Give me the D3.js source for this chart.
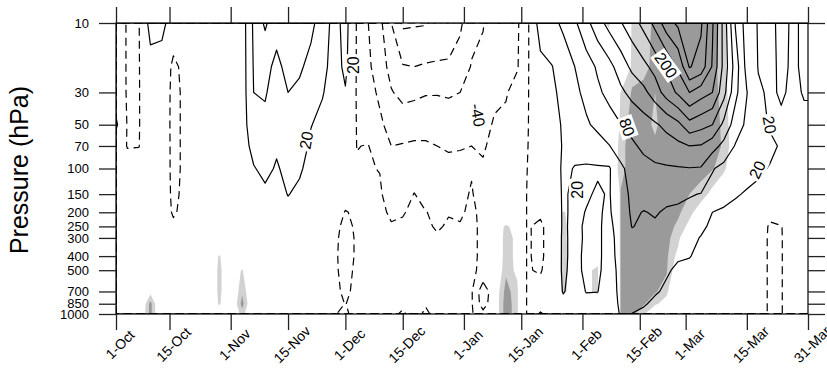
<!DOCTYPE html>
<html>
<head>
<meta charset="utf-8">
<script src="https://cdn.jsdelivr.net/npm/d3@7"></script>
<style>
  body { margin: 0; background: #fff; }
  text { font-family: "Liberation Sans", Arial, Helvetica, sans-serif; }
</style>
</head>
<body>
<svg id="chart" width="827" height="371"></svg>
<script>
// pressure levels (hPa), bottom to top
const pLevels = [1000, 850, 700, 500, 400, 300, 250, 200, 150, 100, 70, 50, 30, 20, 10];
// one value every 3 days starting 1-Oct
const dayStep = 3;

// anomaly at each level
const z10   = [3,-12,-11,30,28,5,5,5,5,5,5,5,55,85,58,62,60,55,40,8,30,-12,-40,-62,-100,-135,-133,-132,-125,-118,-105,-80,-72,-52,-48,-44,-9.5,34,41,56,75,101,128,150,168,187,209,239,277,296,305,295,234,158,78,36,18,16,24,18,22,23];
const z20   = [3,-12,-11,10,8,-15,-4,5,5,5,5,5,52,56,45,56,53,44,30,7,26,-12,-35,-55,-80,-98,-100,-97,-96,-96,-88,-68,-62,-48,-46,-42,-9.5,12,19,33,50,67,84,101,124,147,162,180,204,235,292,279,227,160,96,40,19,16,23,18,22,23];
const z30   = [4,-12,-11,6,5,-16,-6,5,5,5,5,5,50,52,40,50,46,36,22,6,18,-12,-28,-46,-68,-78,-76,-72,-72,-74,-70,-58,-55,-44,-42,-30,-9.5,8,15,27,43,58,75,88,104,119,132,155,183,205,230,213,200,150,88,51,23,17,22,17,21,21];
const z50   = [25,-12,-11,5,4,-16,-6,5,5,5,5,5,42,45,33,44,40,21,12,5,10,-11,-16,-34,-52,-55,-52,-52,-50,-52,-50,-48,-46,-38,-35,-22,-9.5,2,10,23,35,46,57,68,79,88,97,106,118,132,160,150,140,102,66,44,29,18,17,16,17,17];
const z70   = [2,-11,-10.5,5,5,-16,-6,5,5,5,5,5,30,38,24,36,33,15,8,5,5,-10.3,-9.5,-20,-40,-38,-36,-36,-40,-44,-42,-40,-44,-30,-25,-16,-9.5,-2,8,22,26,32,38,49,63,76,85,91,97,103,110,108,92,71,48,40,32,24,18,17,17,17];
const z100  = [3,-2,-2,5,5,-16,-6,5,5,5,5,5,18,28,17,28,24,10,6,5,3,-9,-9,-10.5,-28,-30,-20,-28,-28,-30,-32,-12,-36,-20,-18,-13,-9.5,-4,6,24,19,17,17,17,45,60,72,76,77,78,79,78,52,42,35,28,23,19,17,17,18,18];
const z150  = [4,2,2,5,5,-15,-5,5,5,5,5,5,8,14,10,21,14,7,5,4,-2,-8,-8,-8,-18,-18,-9.5,-16,-18,-16,-16,-8,-22,-15,-14,-12,-9.5,-6,0,24,14,17,23,18,40,55,60,58,57,56,52,49,40,30,22,18,16,17,18,18,18,18];
const z200  = [4,4,4,5,5,-13,-3,5,5,5,5,5,5,6,6,12,8,5,5,0,-11,-7,-7,-7,-12,-11,-7,-9.5,-13,-11,-12,-7,-14,-13,-13,-12,-9.5,-8,-4,24,14,21,22,17,35,54,49,52,47,45,42,30,20,16,14,13,10,-6,8,12,12,12];
const z250  = [4,4,4,5,5,-5,3,5,5,5,5,5,5,5,5,6,5,5,5,-4,-15,-7,-6,-5,-9,-8,-6,-7,-12,-8,-9,-7,-13,-12,-12,-12,-9.5,-12,-5,24,13,24,23,14,32,51,45,47,44,40,36,24,16,12,10,5,0,-12,-11,4,6,6];
const z300  = [4,4,4,5,5,2,4,5,5,5,5,5,5,5,5,5,5,5,5,-6,-16,-8,-5,-4,-6,-5,-5,-5,-8,-5,-6,-7,-13,-12,-12,-12,-9.5,-12,-5,25,12,24,24,12,30,42,38,36,34,30,25,19,14,10,8,5,-3,-12,-11,0,5,5];
const z400  = [4,4,4,5,5,4,4,5,5,5,5,5,5,5,5,5,5,5,5,-7,-16,-8,-4,-3,-4,-4,-4,-4,-5,-4,-5,-7,-13,-13,-12,-12,-9.5,-12,-5,25,12,26,25,10,30,38,35,32,28,22,21,14,10,8,5,3,-3,-12,-11,0,4,4];
const z500  = [4,4,4,5,5,4,4,5,5,5,5,5,5,5,5,5,5,5,5,-7,-15,-7,-3,-3,-3,-3,-3,-3,-3,-3,-4,-7,-14,-14,-12,-12,-9.5,-11,-4,25,10,27,25,8,28,34,30,27,22,17,14,10,8,6,4,2,-3,-12,-11,0,4,4];
const z700  = [4,4,4,5,5,4,4,5,5,5,5,5,5,5,5,5,5,5,5,-6,-13,-6,-2,-2,-2,-2,-2,-3,-2,-2,-3,-7,-60,-20,-13,-12,-9.5,-6,-2,22,8,21,20.5,6,27,30,26,22,17,13,10,8,6,4,3,2,-3,-12,-11,0,3,3];
const z850  = [4,4,4,5,5,4,4,5,5,5,5,5,5,5,5,5,5,5,5,-4,-10.5,-4,0,-1,-3,-6,-1,-8,-2,-2,-3,-7,-55,-18,-13,-12,-9.5,0,3,12,6,12,12,5,25,26,22,16,12,10,8,6,5,4,3,1,-3,-12,-11,0,3,3];
const z1000 = [4,4,4,5,5,4,4,5,5,5,5,5,5,5,5,5,5,5,5,-9,-13,-3,0,0,-5,-13,-2,-14,-3,-2,-3,-7,-30,-14,-13,-12,-9.5,25,5,8,6,8,8,5,22,19.5,16,12,10,8,6,5,4,3,3,1,-3,-12,-11,0,3,3];

// significance (%) at each level
const s10   = [40,40,40,40,40,40,40,40,40,40,40,40,40,40,40,40,40,40,40,40,40,40,40,40,40,40,40,40,40,40,40,40,40,40,40,40,40,40,40,40,40,40,86,92,60,92,93,96,98,99,99,99,97,92,82,40,40,40,40,40,40,40];
const s20   = [40,40,40,40,40,40,40,40,40,40,40,40,40,40,40,40,40,40,40,40,40,40,40,40,40,40,40,40,40,40,40,40,40,40,40,40,40,40,40,40,40,40,40,75,65,93,94,96,98,99,99,99,97,92,82,40,40,40,40,40,40,40];
const s30   = [40,40,40,40,40,40,40,40,40,40,40,40,40,40,40,40,40,40,40,40,40,40,40,40,40,40,40,40,40,40,40,40,40,40,40,40,40,40,40,40,40,40,40,70,90.5,95.5,96,95,98,99,99,99,97,93,83,40,40,40,40,40,40,40];
const s50   = [40,40,40,40,40,40,40,40,40,40,40,40,40,40,40,40,40,40,40,40,40,40,40,40,40,40,40,40,40,40,40,40,40,40,40,40,40,40,40,40,40,40,40,75,92,97,97,94,98,99,99,99,97,94,84,40,40,40,40,40,40,40];
const s70   = [40,40,40,40,40,40,40,40,40,40,40,40,40,40,40,40,40,40,40,40,40,40,40,40,40,40,40,40,40,40,40,40,40,40,40,40,40,40,40,40,40,40,40,80,93,98,99,96,98,99,98,98,96.5,94.5,85,40,40,40,40,40,40,40];
const s100  = [40,40,40,40,40,40,40,40,40,40,40,40,40,40,40,40,40,40,40,40,40,40,40,40,40,40,40,40,40,40,40,40,40,40,40,40,40,40,40,40,40,40,40,82,93,98,99,98,98,98,97,97,95.5,92,80,40,40,40,40,40,40,40];
const s150  = [40,40,40,40,40,40,40,40,40,40,40,40,40,40,40,40,40,40,40,40,40,40,40,40,40,40,40,40,40,40,40,40,40,40,40,40,40,40,60,75,60,40,40,20,95.5,99,99,99,98,97,95,93,88,80,70,40,40,40,40,40,40,40];
const s200  = [40,40,40,40,40,40,40,40,40,40,40,40,40,40,40,40,40,40,40,40,40,40,40,40,40,40,40,40,40,40,40,40,40,40,70,40,40,40,80,91,85,40,40,20,95.5,99,99,99,98,96,92,86,75,70,50,40,40,40,40,40,40,40];
const s250  = [40,40,40,40,40,40,40,40,40,40,40,40,40,40,40,40,40,40,40,40,40,40,40,40,40,40,40,40,40,40,40,40,40,82,92,85,40,40,80,92,85,40,40,20,95.5,99,99,99,97,94,88,75,50,40,40,40,40,40,40,40,40,40];
const s300  = [40,40,40,40,40,40,40,40,40,70,40,40,40,40,40,40,40,40,40,40,40,40,40,40,40,40,40,40,40,40,40,40,40,82,93,88,40,40,80,92,85,40,40,20,95.5,99,99,99,96.5,92,80,65,40,40,40,40,40,40,40,40,40,40];
const s400  = [40,40,40,40,40,40,40,40,80,91,80,70,40,40,40,40,40,40,40,40,40,40,40,40,40,40,40,40,40,40,40,40,40,82,93,88,40,40,80,93,85,80,85,20,95.5,99,99,98,96,88,70,50,40,40,40,40,40,40,40,40,40,40];
const s500  = [40,40,40,60,40,40,40,40,80,92,82,91,75,40,40,40,40,40,40,40,40,40,40,40,40,40,40,40,40,40,40,40,40,82,94,88,40,40,80,93,85,88,92,20,95.5,99,99,97,95.5,85,60,40,40,40,40,40,40,40,40,40,40,40];
const s700  = [40,40,60,88,60,40,40,40,80,92,82,94,82,40,40,40,40,40,40,40,40,40,40,40,40,40,40,40,40,40,40,40,40,85,97,92,40,40,80,92,85,88,92,20,95.5,99,98,95.5,93,70,50,40,40,40,40,40,40,40,40,40,40,40];
const s850  = [40,40,80,97,80,40,40,40,80,91,82,97,82,40,40,40,40,40,40,40,40,40,40,40,40,40,40,40,40,40,40,40,40,85,98,92,40,40,70,82,70,70,84,20,95.5,98,95.5,92,85,60,40,40,40,40,40,40,40,40,40,40,40,40];
const s1000 = [40,40,82,97,80,40,40,40,60,85,80,93,80,40,40,40,40,40,40,40,40,40,40,40,40,40,40,40,40,40,40,40,40,85,98,92,40,40,40,60,40,40,40,20,95.5,96,92,75,60,50,40,40,40,40,40,40,40,40,40,40,40,40];

const zRows = [z1000, z850, z700, z500, z400, z300, z250, z200, z150, z100, z70, z50, z30, z20, z10];
const sRows = [s1000, s850, s700, s500, s400, s300, s250, s200, s150, s100, s70, s50, s30, s20, s10];

const contourLevels = d3.range(-160, 320, 30);   // ... -40, -10, 20, 50, 80 ...
const sigLevels = [90, 95];
const sigColors = ["#d2d2d2", "#9a9a9a"];

// axis ticks
const tickDays = [0, 14, 30, 45, 60, 75, 91, 106, 122, 137, 149, 165, 181];
const tickNames = ["1-Oct", "15-Oct", "1-Nov", "15-Nov", "1-Dec", "15-Dec", "1-Jan", "15-Jan", "1-Feb", "15-Feb", "1-Mar", "15-Mar", "31-Mar"];
const pTicks = [1000, 850, 700, 500, 400, 300, 250, 200, 150, 100, 70, 50, 30, 10];

// contour labels (day, hPa, rotation)
const contourLabels = [
  {text: "20",  day: 49.7,  p: 64,   angle: -80},
  {text: "20",  day: 62,    p: 19.5, angle: -90},
  {text: "-40", day: 94.7,  p: 43,   angle: 80},
  {text: "20",  day: 120.6, p: 140,  angle: -90},
  {text: "80",  day: 133.7, p: 52,   angle: 70},
  {text: "200", day: 143.9, p: 19.5, angle: 55},
  {text: "20",  day: 171,   p: 50,   angle: 80},
  {text: "20",  day: 167.7, p: 102,  angle: -65}
];

const svg = d3.select("#chart");
const plot = {left: 116, right: 808, top: 23, bottom: 314};

const x = d3.scaleLinear().domain([0, 181]).range([plot.left, plot.right]);
const y = d3.scaleLog().domain([1000, 10]).range([plot.bottom, plot.top]);

const nCol = z10.length;
const nRow = pLevels.length;

// grid coordinates -> pixels
function gridX(gx) {
  const c = Math.max(0, Math.min(nCol - 1, gx - 0.5));
  return x(c * dayStep);
}
function gridY(gy) {
  const j = Math.max(0, Math.min(nRow - 1, gy - 0.5));
  const j0 = Math.min(nRow - 2, Math.floor(j));
  const t = j - j0;
  return y(pLevels[j0]) * (1 - t) + y(pLevels[j0 + 1]) * t;
}
const path = d3.geoPath(d3.geoTransform({
  point: function (gx, gy) { this.stream.point(gridX(gx), gridY(gy)); }
}));

svg.append("rect").attr("width", 827).attr("height", 371).attr("fill", "#fff");

svg.append("defs").append("clipPath").attr("id", "clip")
  .append("rect")
  .attr("x", plot.left).attr("y", plot.top)
  .attr("width", plot.right - plot.left).attr("height", plot.bottom - plot.top);

const g = svg.append("g").attr("clip-path", "url(#clip)");

// shading
const sigContours = d3.contours().size([nCol, nRow]).thresholds(sigLevels)(sRows.flat());
g.selectAll("path.sig")
  .data(sigContours)
  .enter().append("path")
  .attr("class", "sig")
  .attr("d", path)
  .attr("fill", (d, i) => sigColors[i])
  .attr("stroke", "none");

// contour lines
const zContours = d3.contours().size([nCol, nRow]).thresholds(contourLevels)(zRows.flat());
g.selectAll("path.line")
  .data(zContours)
  .enter().append("path")
  .attr("class", "line")
  .attr("d", path)
  .attr("fill", "none")
  .attr("stroke", "#000")
  .attr("stroke-width", 1.2)
  .attr("stroke-linejoin", "round")
  .attr("stroke-dasharray", d => d.value < 0 ? "8,5" : null);

// contour labels
const lab = g.selectAll("g.lab")
  .data(contourLabels)
  .enter().append("g")
  .attr("class", "lab")
  .attr("transform", d => `translate(${x(d.day)},${y(d.p)}) rotate(${d.angle})`);
lab.append("text")
  .attr("text-anchor", "middle")
  .attr("dy", "0.36em")
  .attr("font-size", "16px")
  .text(d => d.text);
lab.each(function () {
  const t = d3.select(this).select("text");
  const b = t.node().getBBox();
  d3.select(this).insert("rect", "text")
    .attr("x", b.x - 2).attr("y", b.y)
    .attr("width", b.width + 4).attr("height", b.height)
    .attr("fill", "#fff");
});

// frame
svg.append("rect")
  .attr("x", plot.left).attr("y", plot.top)
  .attr("width", plot.right - plot.left).attr("height", plot.bottom - plot.top)
  .attr("fill", "none").attr("stroke", "#000").attr("stroke-width", 1.2);

function styleAxis(sel) {
  sel.select(".domain").remove();
  sel.selectAll(".tick line").attr("stroke", "#222").attr("stroke-width", 1.3);
  sel.selectAll(".tick text").attr("fill", "#000").attr("font-size", "13px")
    .attr("font-family", '"Liberation Sans", Arial, sans-serif');
}

svg.append("g")
  .attr("transform", `translate(${plot.left},0)`)
  .call(d3.axisLeft(y).tickValues(pTicks).tickFormat(d3.format("d")).tickSize(17).tickPadding(10))
  .call(styleAxis);

svg.append("g")
  .attr("transform", `translate(${plot.right},0)`)
  .call(d3.axisRight(y).tickValues(pTicks).tickFormat("").tickSize(17))
  .call(styleAxis);

svg.append("g")
  .attr("transform", `translate(0,${plot.top})`)
  .call(d3.axisTop(x).tickValues(tickDays).tickFormat("").tickSize(16))
  .call(styleAxis);

const xb = svg.append("g")
  .attr("transform", `translate(0,${plot.bottom})`)
  .call(d3.axisBottom(x).tickValues(tickDays).tickFormat((d, i) => tickNames[i]).tickSize(16))
  .call(styleAxis);
xb.selectAll(".tick text")
  .attr("y", 0).attr("dy", 0)
  .attr("font-size", "14px")
  .attr("text-anchor", "middle")
  .attr("transform", "translate(7,34) rotate(-45)");

svg.append("text")
  .attr("transform", "translate(28,170) rotate(-90)")
  .attr("text-anchor", "middle")
  .attr("font-size", "25px")
  .attr("fill", "#000")
  .text("Pressure (hPa)");
</script>
</body>
</html>
